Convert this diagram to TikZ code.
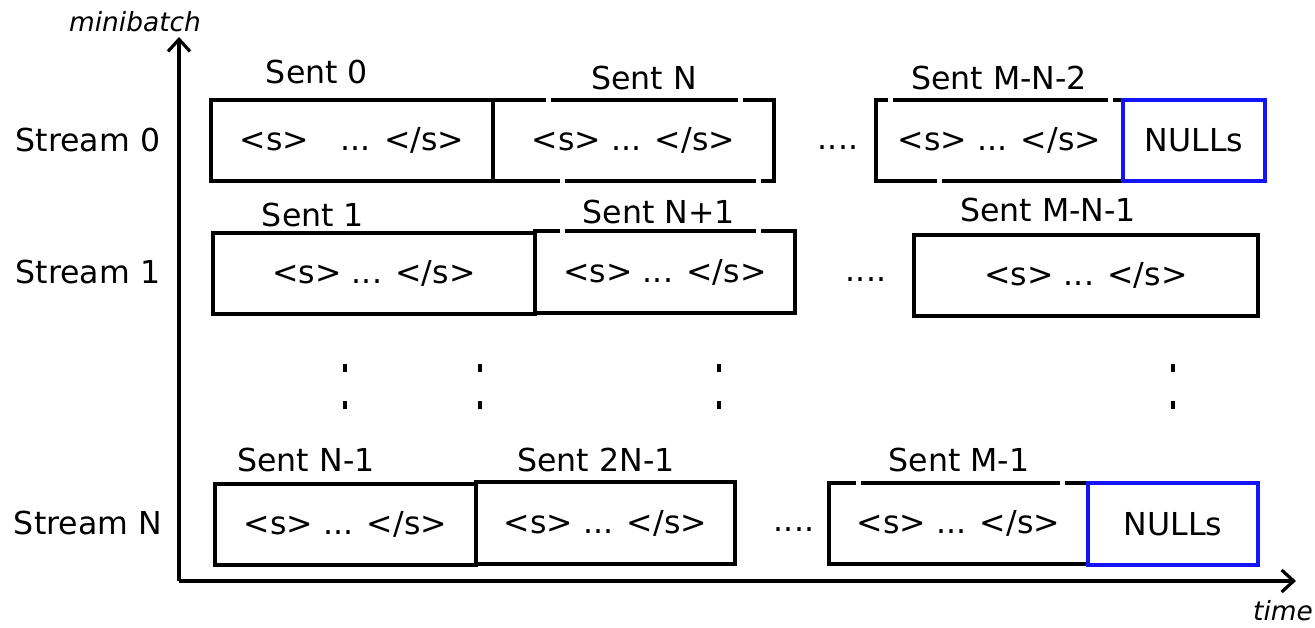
\documentclass[tikz,border=0pt]{standalone}
\usepackage{fontspec}
\setmainfont{DejaVu Sans}
\usetikzlibrary{arrows.meta}
\definecolor{nullblue}{RGB}{20,20,250}
\begin{document}
\begin{tikzpicture}[x=0.5pt,y=-0.5pt,
  font=\fontsize{15.8}{19}\selectfont,
  sentbox/.style={draw=black,line width=1.65pt,inner sep=0pt,rectangle},
  nullbox/.style={sentbox,draw=nullblue},
  lbl/.style={inner sep=0pt},
  axis/.style={line width=1.6pt,-{Straight Barb[length=6pt,width=11pt,line width=1.6pt]}},
  gap/.style={fill=white,draw=none},
  vdot/.style={fill=black,draw=none}]
\useasboundingbox (0,0) rectangle (1315,627);

% axes
\coordinate (origin) at (179,581);
\coordinate (ytop) at (179,37);
\coordinate (xend) at (1296,581);
\draw[axis] (origin) -- (ytop);
\draw[axis] (origin) -- (xend);
\node[lbl,font=\fontsize{13.2}{16}\itshape] (ylab) at (135,22) {minibatch};
\node[lbl,font=\fontsize{13.2}{16}\itshape] (xlab) at (1283,611) {time};

% stream labels
\node[lbl] (s0) at (88,140) {Stream 0};
\node[lbl] (s1) at (88,272) {Stream 1};
\node[lbl] (sN) at (88,523) {Stream N};

% stream 0
\node[sentbox,minimum width=141pt,minimum height=40.5pt] (a) at (352,140.5) {<s>\hspace{1em}... </s>};
\node[sentbox,minimum width=140.5pt,minimum height=40.5pt] (b) at (633.5,140.5) {<s> ... </s>};
\node[sentbox,minimum width=123.5pt,minimum height=40.5pt] (c) at (999.5,140.5) {<s> ... </s>};
\node[nullbox,minimum width=71pt,minimum height=40.5pt] (n0) at (1194,140.5) {NULLs};
\node[lbl] (ta) at (317,72) {Sent 0};
\node[lbl] (tb) at (644,78) {Sent N};
\node[lbl] (tc) at (999,78) {Sent M-N-2};
\node[lbl] (d0) at (838,141) {\vphantom{Sg}....};

% stream 1
\node[sentbox,minimum width=161pt,minimum height=40.5pt] (d) at (374,273.5) {<s> ... </s>};
\node[sentbox,minimum width=130pt,minimum height=41pt] (e) at (665,272) {<s> ... </s>};
\node[sentbox,minimum width=172pt,minimum height=40.5pt] (f) at (1086,275.5) {<s> ... </s>};
\node[lbl] (td) at (313,215) {Sent 1};
\node[lbl] (te) at (659,212) {Sent N+1};
\node[lbl] (tf) at (1048,210) {Sent M-N-1};
\node[lbl] (d1) at (866,273) {\vphantom{Sg}....};

% stream N
\node[sentbox,minimum width=130.5pt,minimum height=40.5pt] (g) at (345.5,524.5) {<s> ... </s>};
\node[sentbox,minimum width=129.5pt,minimum height=41pt] (h) at (605.5,523) {<s> ... </s>};
\node[sentbox,minimum width=129.5pt,minimum height=40.5pt] (i) at (958.5,523.5) {<s> ... </s>};
\node[nullbox,minimum width=85pt,minimum height=41pt] (nN) at (1173,524) {NULLs};
\node[lbl] (tg) at (306,460) {Sent N-1};
\node[lbl] (th) at (596,460) {Sent 2N-1};
\node[lbl] (ti) at (959,460) {Sent M-1};
\node[lbl] (dN) at (794,523) {\vphantom{Sg}....};

% small breaks in the box outlines
\foreach \gx/\gy in {548/100,740/100,562/181,758/181,890/100,1110/100,939/181,562/231,758/231,858/483,1062/483}
  \fill[gap] (\gx-2.5,\gy-3) rectangle (\gx+2.5,\gy+3);

% vertical ellipses between the streams
\foreach \vx in {345,480,719,1173}
  \foreach \vy in {368,405}
    \fill[vdot] (\vx-2,\vy-4) rectangle (\vx+2,\vy+4);
\end{tikzpicture}
\end{document}
